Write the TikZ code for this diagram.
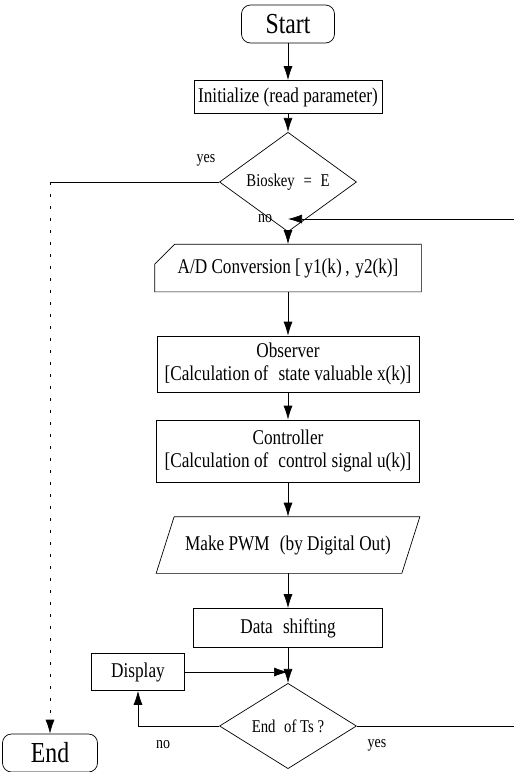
\documentclass[tikz,border=0pt]{standalone}
\usepackage{fontspec}
\setmainfont{Liberation Serif}[FakeStretch=0.82]
\usetikzlibrary{arrows.meta,shapes.geometric,calc}

\begin{document}
\begin{tikzpicture}[x=1pt, y=-1pt,
  box/.style={draw, line width=0.7pt, inner sep=0pt, align=center, font=\fontsize{21}{23}\selectfont},
  term/.style={draw, line width=0.7pt, rounded corners=9pt, inner sep=0pt, font=\fontsize{29}{31}\selectfont},
  decision/.style={draw, line width=0.7pt, diamond, inner sep=0pt, minimum width=137pt, minimum height=55pt, font=\fontsize{18}{20}\selectfont},
  flow/.style={line width=0.7pt, -{Latex[length=14pt,width=9pt]}},
  lbl/.style={inner sep=0pt, font=\fontsize{17}{19}\selectfont}]
  \useasboundingbox (0,0) rectangle (514,772);
  % main column
  \node[term, minimum width=93pt, minimum height=38pt] (start) at (288,24) {Start};
  \node[box, minimum width=188pt, minimum height=33pt] (init) at (288,97) {Initialize (read parameter)};
  \node[decision] (bios) at (288,182) {Bioskey \;=\; E};
  \node[box, draw=none, minimum width=266pt, minimum height=47pt] (ad) at (288,268) {A/D Conversion [\,y1(k)\,,\;y2(k)]};
  \draw[line width=0.7pt] ($(ad.north west)+(20,0)$) -- (ad.north east) -- (ad.south east) -- (ad.south west) -- ($(ad.north west)+(0,20)$) -- cycle;
  \node[box, minimum width=262pt, minimum height=56pt] (obs) at (288,364) {Observer\\{}[Calculation of \;state valuable x(k)]};
  \node[box, minimum width=263pt, minimum height=62pt] (ctrl) at (288,451) {Controller\\{}[Calculation of \;control signal u(k)]};
  \node[box, draw=none, minimum width=227pt, minimum height=56pt] (pwm) at (288,545) {Make PWM \;(by Digital Out)};
  \draw[line width=0.7pt] (pwm.north west) -- ($(pwm.north east)+(18,0)$) -- (pwm.south east) -- ($(pwm.south west)+(-18,0)$) -- cycle;
  \node[box, minimum width=189pt, minimum height=39pt] (datas) at (288,628) {Data \;shifting};
  \node[box, minimum width=93pt, minimum height=37pt] (disp) at (138,672) {Display};
  \node[decision] (endts) at (288,726) {End \;of Ts ?};
  \node[term, minimum width=95pt, minimum height=38pt] (end) at (50,753) {End};
  % labels
  \node[lbl] (yesa) at (206,160) {yes};
  \node[lbl] (noa) at (265,219) {no};
  \node[lbl] (nob) at (163,745) {no};
  \node[lbl] (yesb) at (377,745) {yes};
  % connectors
  \coordinate (corner) at (bios.west -| end.north);
  \coordinate (loopin) at (514,219);
  \coordinate (loopout) at (514,726);
  \draw[flow] (start.south) -- (init.north);
  \draw[flow] (init.south) -- (bios.north);
  \draw[flow] (bios.south) -- (ad.north);
  \draw[flow] (loopin) -- (bios.south |- loopin);
  \draw[flow] (ad.south) -- (obs.north);
  \draw[flow] (obs.south) -- (ctrl.north);
  \draw[flow] (ctrl.south) -- (pwm.north);
  \draw[flow] (pwm.south) -- (datas.north);
  \draw[flow] (datas.south) -- (endts.north);
  \draw[flow] (disp.east) -- (datas.south |- disp.east);
  \draw[flow] (endts.west) -| (disp.south);
  \draw[line width=0.7pt] (endts.east) -- (loopout);
  \draw[line width=0.7pt] (bios.west) -- (corner);
  \draw[flow, dash pattern=on 3pt off 9pt] (corner) -- (end.north);
\end{tikzpicture}
\end{document}
